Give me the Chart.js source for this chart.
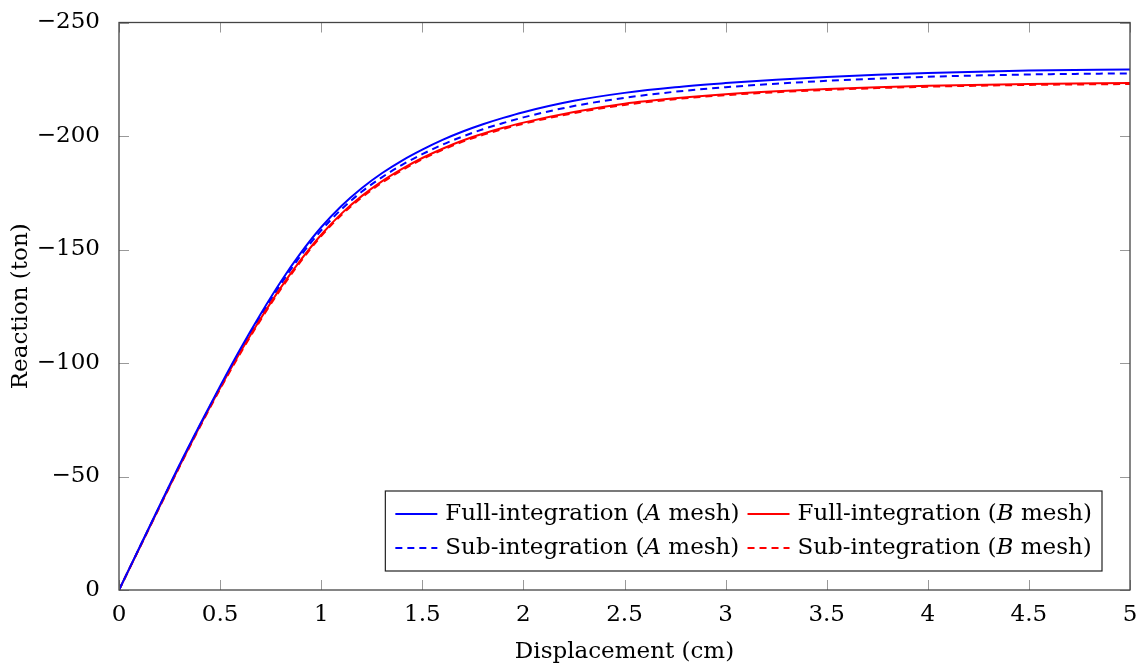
<!DOCTYPE html>
<html>
<head>
<meta charset="utf-8">
<script src="https://cdn.jsdelivr.net/npm/chart.js@4.4.1/dist/chart.umd.min.js"></script>
<style>
  html, body { margin: 0; padding: 0; background: #fff; }
  #wrap { width: 1140px; height: 664px; }
</style>
</head>
<body>
<div id="wrap"><canvas id="chart"></canvas></div>
<script>
// displacement (cm)
const disp = [0, 0.1, 0.2, 0.3, 0.4, 0.5, 0.6, 0.7, 0.8, 0.9, 1.0, 1.1, 1.2, 1.3, 1.4, 1.5, 1.6, 1.7, 1.8, 1.9, 2.0, 2.25, 2.5, 2.75, 3.0, 3.25, 3.5, 3.75, 4.0, 4.5, 5.0]

// reaction (ton)
const fullA = [0, -18.5, -37, -55.3, -72.8, -89.8, -106.2, -121.5, -135.8, -148.6, -159.8, -169.2, -177, -183.6, -189.2, -194, -198.3, -202, -205.2, -208, -210.5, -215.5, -219, -221.5, -223.3, -224.8, -226, -227, -227.8, -228.8, -229.3]
const subA = [0, -18.4, -36.8, -55, -72.5, -89.3, -105.5, -120.6, -134.7, -147.4, -158.4, -167.7, -175.4, -181.8, -187.3, -192, -196.2, -199.8, -203, -205.7, -208.2, -213.2, -216.8, -219.5, -221.5, -223, -224.3, -225.3, -226.1, -227.1, -227.6]
const fullB = [0, -18.3, -36.6, -54.7, -72.2, -89, -104.8, -119.5, -133.2, -145.5, -156.5, -165.8, -173.5, -180, -185.5, -190.3, -194.4, -198, -201, -203.6, -205.9, -210.6, -214.2, -216.6, -218.4, -219.7, -220.7, -221.5, -222.1, -222.9, -223.3]
const subB = [0, -18.2, -36.4, -54.4, -71.8, -88.5, -104.2, -118.9, -132.5, -144.9, -155.9, -165.2, -172.9, -179.4, -184.9, -189.8, -193.9, -197.5, -200.5, -203.1, -205.4, -210.1, -213.7, -216.2, -218, -219.3, -220.3, -221.1, -221.7, -222.5, -222.9]

const labels = ['Full-integration (A mesh)', 'Full-integration (B mesh)', 'Sub-integration (A mesh)', 'Sub-integration (B mesh)']

const FONT = "'DejaVu Serif', 'Liberation Serif', serif"
const FS = 23

const pts = (ys) => disp.map((x, i) => ({ x: x, y: ys[i] }))

const mkSet = (label, ys, color, dashed) => ({
  label: label,
  data: pts(ys),
  borderColor: color,
  backgroundColor: color,
  borderWidth: 2,
  borderDash: dashed ? [7, 5] : [],
  pointRadius: 0,
  fill: false,
  cubicInterpolationMode: 'monotone',
})

// frame, inward ticks on all 4 sides, legend box
const framePlugin = {
  id: 'frame',
  afterDatasetsDraw(chart) {
    const { ctx, chartArea: a, scales } = chart
    ctx.save()
    ctx.strokeStyle = '#999'
    ctx.lineWidth = 1
    const tl = 10
    scales.x.ticks.forEach((t) => {
      const px = Math.round(scales.x.getPixelForValue(t.value)) + 0.5
      ctx.beginPath()
      ctx.moveTo(px, a.bottom); ctx.lineTo(px, a.bottom - tl)
      ctx.moveTo(px, a.top); ctx.lineTo(px, a.top + tl)
      ctx.stroke()
    })
    scales.y.ticks.forEach((t) => {
      const py = Math.round(scales.y.getPixelForValue(t.value)) + 0.5
      ctx.beginPath()
      ctx.moveTo(a.left, py); ctx.lineTo(a.left + tl, py)
      ctx.moveTo(a.right, py); ctx.lineTo(a.right - tl, py)
      ctx.stroke()
    })
    ctx.strokeStyle = '#444'
    ctx.lineWidth = 1.3
    ctx.strokeRect(a.left, a.top, a.right - a.left, a.bottom - a.top)

    // legend
    const sets = chart.data.datasets
    const parts = (s) => {
      const m = s.match(/^(.*\()(\w)( mesh\))$/)
      return m ? [m[1], m[2], m[3]] : [s, '', '']
    }
    const w = (s) => {
      const p = parts(s)
      ctx.font = FS + 'px ' + FONT
      let r = ctx.measureText(p[0]).width + ctx.measureText(p[2]).width
      ctx.font = 'italic ' + FS + 'px ' + FONT
      return r + ctx.measureText(p[1]).width
    }
    const sample = 42, gap = 8, pad = 10, rowH = 34
    const col0 = Math.max(w(sets[0].label), w(sets[2].label))
    const col1 = Math.max(w(sets[1].label), w(sets[3].label))
    const boxW = pad + sample + gap + col0 + gap + sample + gap + col1 + pad
    const boxH = rowH * 2 + 12
    const bx = a.right - 28 - boxW
    const by = a.bottom - 19 - boxH
    ctx.fillStyle = '#fff'
    ctx.fillRect(bx, by, boxW, boxH)
    ctx.strokeStyle = '#222'
    ctx.lineWidth = 1.2
    ctx.strokeRect(bx, by, boxW, boxH)
    const colX = [bx + pad, bx + pad + sample + gap + col0 + gap]
    sets.forEach((ds, i) => {
      const cx = colX[i % 2]
      const cy = by + 6 + rowH / 2 + Math.floor(i / 2) * rowH
      ctx.strokeStyle = ds.borderColor
      ctx.lineWidth = 2
      ctx.setLineDash(ds.borderDash)
      ctx.beginPath()
      ctx.moveTo(cx, cy); ctx.lineTo(cx + sample, cy)
      ctx.stroke()
      ctx.setLineDash([])
      const p = parts(ds.label)
      let tx = cx + sample + gap
      ctx.fillStyle = '#000'
      ctx.textBaseline = 'middle'
      ctx.textAlign = 'left'
      ctx.font = FS + 'px ' + FONT
      ctx.fillText(p[0], tx, cy); tx += ctx.measureText(p[0]).width
      ctx.font = 'italic ' + FS + 'px ' + FONT
      ctx.fillText(p[1], tx, cy); tx += ctx.measureText(p[1]).width
      ctx.font = FS + 'px ' + FONT
      ctx.fillText(p[2], tx, cy)
    })
    ctx.restore()
  },
}

const minus = (v) => (v < 0 ? '\u2212' + Math.abs(v) : String(v))

new Chart(document.getElementById('chart'), {
  type: 'line',
  data: {
    datasets: [
      mkSet(labels[0], fullA, '#0000ff', false),
      mkSet(labels[1], fullB, '#ff0000', false),
      mkSet(labels[2], subA, '#0000ff', true),
      mkSet(labels[3], subB, '#ff0000', true),
    ],
  },
  options: {
    responsive: true,
    maintainAspectRatio: false,
    animation: false,
    layout: { padding: { left: 0, right: 10, top: 22, bottom: 0 } },
    plugins: { legend: { display: false }, tooltip: { enabled: false } },
    scales: {
      x: {
        type: 'linear',
        min: 0,
        max: 5,
        grid: { display: false },
        border: { display: false },
        ticks: {
          stepSize: 0.5,
          padding: 6,
          color: '#000',
          font: { family: FONT, size: FS, lineHeight: 1 },
          maxRotation: 0,
          callback: (v) => String(v),
        },
        title: {
          display: true,
          text: 'Displacement (cm)',
          color: '#000',
          font: { family: FONT, size: FS, lineHeight: 1 },
          padding: 0,
        },
        afterFit: (s) => {
          s.height = 74
          s.paddingRight = 0
          s.paddingLeft = 0
        },
      },
      y: {
        min: -250,
        max: 0,
        reverse: true,
        grid: { display: false },
        border: { display: false },
        ticks: {
          stepSize: 50,
          padding: 11,
          color: '#000',
          font: { family: FONT, size: FS, lineHeight: 1 },
          callback: (v) => minus(v),
        },
        title: {
          display: true,
          text: 'Reaction (ton)',
          color: '#000',
          font: { family: FONT, size: FS, lineHeight: 1 },
          padding: { top: 10, bottom: 0 },
        },
        afterFit: (s) => { s.width = 119 },
      },
    },
  },
  plugins: [framePlugin],
})
</script>
</body>
</html>
